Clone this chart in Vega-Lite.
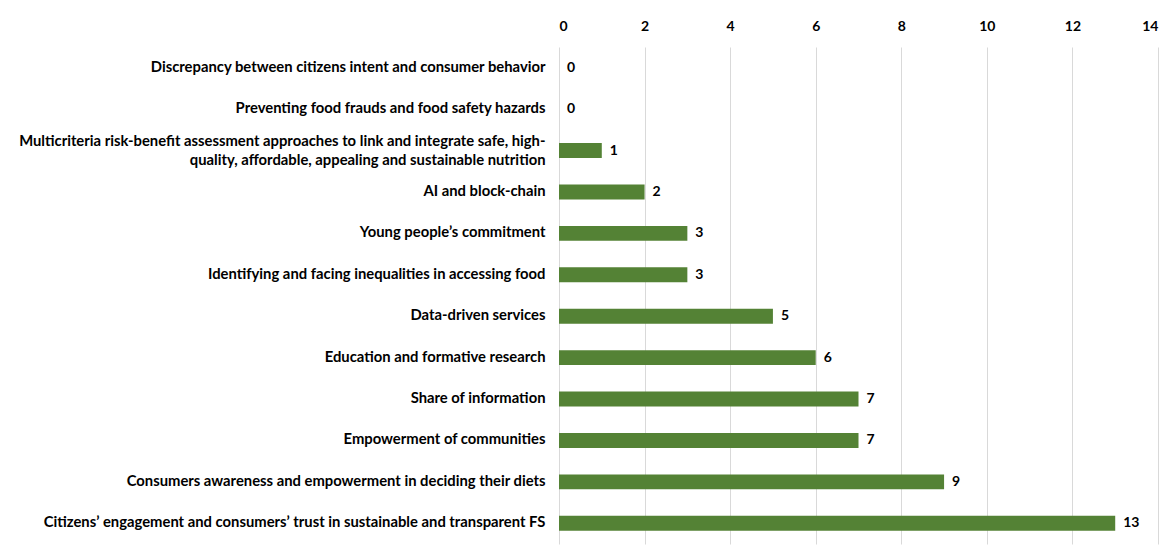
{
  "$schema": "https://vega.github.io/schema/vega-lite/v6.json",
  "autosize": "none",
  "width": 599,
  "height": 497,
  "padding": {"left": 559, "top": 47, "right": 13, "bottom": 7},
  "background": "white",
  "config": {
    "view": {"stroke": null},
    "font": "Lato",
    "axis": {"labelFont": "Lato", "labelFontWeight": "bold", "labelColor": "#000000", "labelFontSize": 14}
  },
  "data": {
    "values": [
      {"topic": "Discrepancy between citizens intent and consumer behavior", "count": 0},
      {"topic": "Preventing food frauds and food safety hazards", "count": 0},
      {"topic": "Multicriteria risk-benefit assessment approaches to link and integrate safe, high-|quality, affordable, appealing and sustainable nutrition", "count": 1},
      {"topic": "AI and block-chain", "count": 2},
      {"topic": "Young people’s commitment ", "count": 3},
      {"topic": "Identifying and facing inequalities in accessing food", "count": 3},
      {"topic": "Data-driven services", "count": 5},
      {"topic": "Education and formative research", "count": 6},
      {"topic": "Share of information", "count": 7},
      {"topic": "Empowerment of communities", "count": 7},
      {"topic": "Consumers awareness and empowerment in deciding their diets", "count": 9},
      {"topic": "Citizens’ engagement and consumers’ trust in sustainable and transparent FS", "count": 13}
    ]
  },
  "encoding": {
    "y": {
      "field": "topic",
      "type": "nominal",
      "sort": null,
      "scale": {"paddingInner": 0.64, "paddingOuter": 0.32},
      "axis": {
        "title": null,
        "ticks": false,
        "domain": false,
        "labelPadding": 14,
        "labelLimit": 600,
        "labelFontSize": 14.8,
        "labelLineHeight": 19,
        "labelOffset": {"condition": {"test": "indexof(datum.label, '|') >= 0", "value": -9}, "value": 0},
        "labelExpr": "split(datum.label, '|')"
      }
    },
    "x": {
      "field": "count",
      "type": "quantitative",
      "scale": {"domain": [0, 14], "nice": false},
      "axis": {
        "orient": "top",
        "title": null,
        "values": [0, 2, 4, 6, 8, 10, 12, 14],
        "ticks": false,
        "domain": false,
        "grid": true,
        "gridColor": "#d9d9d9",
        "gridWidth": 1,
        "labelPadding": 14
      }
    }
  },
  "layer": [
    {"mark": {"type": "bar", "color": "#548235"}},
    {
      "mark": {"type": "text", "align": "left", "dx": 8, "font": "Lato", "fontWeight": "bold", "fontSize": 14, "color": "#000000"},
      "encoding": {"text": {"field": "count", "type": "quantitative"}}
    }
  ]
}
